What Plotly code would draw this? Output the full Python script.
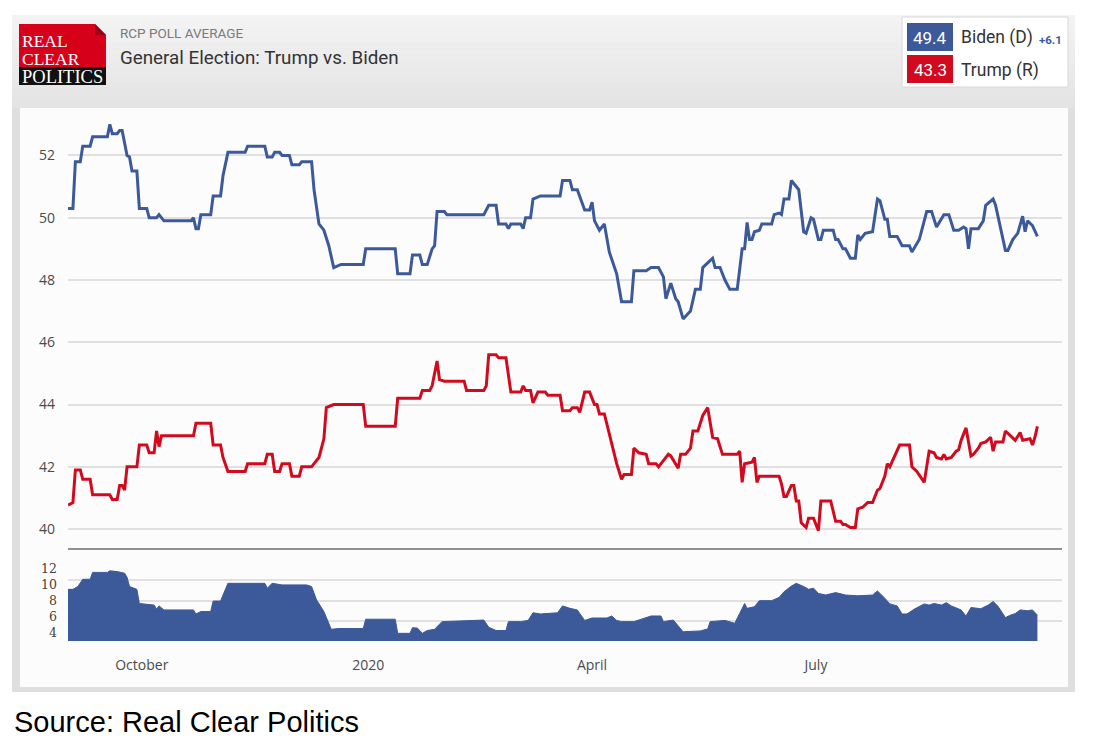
import plotly.graph_objects as go
import pandas as pd

# ---------------- data ----------------
START = "2019-09-01"  # day 0

biden_day = [0, 2, 3, 5, 6, 9, 10, 16, 17, 18, 20, 21, 22, 24, 25, 26, 28, 29, 32, 33, 36, 37, 39,
             50, 51, 52, 53, 54, 58, 59, 62, 63, 65, 72, 73, 80, 81, 83, 84, 86, 87, 90, 91, 94, 95,
             99, 100, 102, 104, 106, 108, 111, 120, 121, 133, 134, 139, 140, 143, 144, 146, 148, 149,
             150, 153, 154, 169, 171, 174, 175, 178, 179, 180, 184, 185, 186, 188, 189, 192, 200, 201,
             204, 205, 207, 210, 212, 213, 214, 216, 218, 220, 223, 225, 229, 230, 235, 237, 240, 242,
             243, 245, 247, 248, 250, 253, 255, 257, 258, 260, 262, 263, 265, 267, 269, 272, 274, 275,
             276, 277, 278, 279, 281, 282, 286, 287, 289, 290, 291, 293, 294, 295, 297, 299, 300, 302,
             303, 305, 306, 307, 311, 312, 313, 315, 316, 318, 320, 321, 322, 324, 327, 329, 330, 332,
             333, 334, 337, 339, 342, 343, 346, 349, 351, 353, 356, 358, 360, 362, 364, 365, 366, 367,
             370, 372, 373, 376, 377, 381, 382, 384, 386, 388, 389, 390, 392, 394]
biden_val = [50.3, 50.3, 51.8, 51.8, 52.3, 52.3, 52.6, 52.6, 53.0, 52.7, 52.7, 52.8, 52.8, 52.0, 51.95,
             51.5, 51.5, 50.3, 50.3, 50.0, 50.0, 50.1, 49.9, 49.9, 50.0, 49.65, 49.65, 50.1, 50.1, 50.7,
             50.7, 51.35, 52.1, 52.1, 52.3, 52.3, 51.95, 51.95, 52.1, 52.1, 52.0, 52.0, 51.7, 51.7, 51.8,
             51.8, 50.9, 49.8, 49.6, 49.1, 48.4, 48.5, 48.5, 49.0, 49.0, 48.2, 48.2, 48.8, 48.8, 48.5,
             48.5, 49.0, 49.1, 50.2, 50.2, 50.1, 50.1, 50.4, 50.4, 49.8, 49.8, 49.65, 49.8, 49.8, 49.65,
             50.0, 50.0, 50.6, 50.7, 50.7, 51.2, 51.2, 50.9, 50.9, 50.25, 50.25, 50.5, 49.9, 49.6, 49.8,
             48.9, 48.2, 47.3, 47.3, 48.3, 48.3, 48.4, 48.4, 48.1, 47.4, 47.9, 47.4, 47.3, 46.75, 47.0,
             47.7, 47.7, 48.4, 48.55, 48.7, 48.4, 48.4, 48.0, 47.7, 47.7, 49.0, 49.0, 49.85, 49.3, 49.3,
             49.55, 49.6, 49.8, 49.8, 50.1, 50.15, 50.1, 50.6, 50.6, 51.2, 51.1, 50.9, 49.55, 49.5, 50.0,
             49.95, 49.3, 49.3, 49.6, 49.6, 49.3, 49.3, 49.0, 49.0, 48.7, 48.7, 49.45, 49.3, 49.5, 49.55,
             50.6, 50.55, 49.95, 49.95, 49.4, 49.4, 49.1, 49.1, 48.9, 49.3, 50.2, 50.2, 49.7, 50.1, 50.1,
             49.6, 49.6, 49.7, 49.65, 49.0, 49.65, 49.65, 49.9, 50.4, 50.6, 50.4, 48.95, 48.95, 49.3,
             49.5, 50.05, 49.55, 49.9, 49.75, 49.4]

trump_day = [0, 2, 3, 5, 6, 9, 10, 17, 18, 20, 21, 22, 23, 24, 28, 29, 32, 33, 35, 36, 37, 38, 51, 52,
             58, 59, 62, 63, 65, 72, 73, 80, 81, 83, 84, 86, 87, 90, 91, 94, 95, 99, 100, 102, 104, 105,
             108, 120, 121, 133, 134, 143, 144, 147, 148, 150, 151, 153, 161, 162, 169, 170, 171, 174,
             175, 178, 180, 184, 185, 186, 188, 189, 191, 194, 195, 200, 201, 204, 205, 207, 208, 210,
             212, 214, 215, 216, 218, 223, 225, 226, 229, 230, 232, 235, 236, 239, 240, 241, 244, 245,
             248, 249, 251, 253, 254, 256, 258, 260, 262, 264, 266, 272, 273, 274, 275, 278, 279, 280,
             281, 289, 290, 291, 292, 294, 295, 296, 297, 298, 300, 301, 303, 305, 306, 310, 312, 314,
             315, 316, 318, 320, 321, 323, 325, 327, 329, 330, 332, 333, 334, 338, 342, 343, 345, 348,
             350, 352, 353, 355, 356, 357, 359, 361, 362, 363, 365, 367, 368, 370, 371, 373, 375, 376,
             377, 380, 381, 383, 385, 387, 388, 391, 392, 393, 394]
trump_val = [40.77, 40.85, 41.9, 41.9, 41.6, 41.6, 41.1, 41.1, 40.95, 40.95, 41.4, 41.4, 41.25, 42.0,
             42.0, 42.7, 42.7, 42.45, 42.45, 43.15, 42.65, 43.0, 43.0, 43.4, 43.4, 42.7, 42.7, 42.3,
             41.85, 41.85, 42.1, 42.1, 42.4, 42.4, 41.85, 41.85, 42.1, 42.1, 41.7, 41.7, 42.0, 42.0,
             42.1, 42.3, 42.9, 43.9, 44.0, 44.0, 43.3, 43.3, 44.2, 44.2, 44.45, 44.45, 44.6, 45.4, 44.8,
             44.75, 44.75, 44.45, 44.45, 44.6, 45.6, 45.6, 45.5, 45.5, 44.4, 44.4, 44.6, 44.45, 44.45,
             44.05, 44.4, 44.4, 44.3, 44.3, 43.8, 43.8, 43.9, 43.9, 43.75, 44.4, 44.4, 44.0, 44.0, 43.7,
             43.7, 42.1, 41.6, 41.75, 41.75, 42.6, 42.45, 42.4, 42.1, 42.1, 42.0, 42.1, 42.4, 42.35,
             41.95, 42.4, 42.4, 42.6, 43.15, 43.15, 43.65, 43.9, 42.95, 42.9, 42.4, 42.4, 42.5, 41.5,
             42.1, 42.15, 42.3, 41.5, 41.7, 41.7, 41.45, 41.05, 41.05, 41.4, 41.4, 40.9, 40.9, 40.2,
             40.05, 40.35, 40.35, 39.95, 40.9, 40.9, 40.25, 40.25, 40.15, 40.15, 40.05, 40.05, 40.65,
             40.7, 40.85, 40.85, 41.25, 41.3, 41.7, 42.1, 42.0, 42.7, 42.7, 42.0, 41.85, 41.5, 42.5,
             42.45, 42.3, 42.25, 42.4, 42.25, 42.3, 42.5, 42.55, 42.85, 43.25, 42.35, 42.4, 42.6, 42.75,
             42.8, 42.95, 42.5, 42.8, 42.8, 43.15, 43.0, 42.85, 43.1, 42.85, 42.9, 42.7, 42.95, 43.3]

spread_day = [0, 2, 4, 6, 9, 10, 16, 17, 20, 23, 24, 25, 28, 29, 35, 36, 37, 39, 51, 52, 54, 58, 59,
              62, 65, 80, 81, 83, 87, 97, 99, 101, 104, 107, 110, 120, 121, 133, 134, 139, 140, 142,
              144, 146, 149, 152, 161, 169, 171, 174, 178, 179, 184, 187, 189, 192, 199, 201, 204, 207,
              210, 213, 219, 221, 223, 225, 230, 234, 237, 241, 242, 246, 248, 250, 257, 260, 261, 267,
              271, 275, 276, 279, 281, 286, 289, 291, 294, 296, 299, 301, 303, 305, 308, 312, 316, 321,
              327, 329, 332, 334, 337, 339, 341, 344, 348, 350, 352, 355, 357, 359, 363, 365, 367, 371,
              374, 376, 378, 381, 383, 385, 387, 390, 392, 393, 394]
spread_val = [9.4, 9.4, 9.75, 10.65, 10.65, 11.5, 11.5, 11.7, 11.6, 11.4, 10.9, 9.75, 9.4, 7.65, 7.45,
              6.95, 7.35, 6.85, 6.85, 6.35, 6.65, 6.65, 7.95, 7.95, 10.15, 10.15, 9.55, 10.15, 9.95,
              9.95, 9.75, 8.1, 6.65, 4.45, 4.55, 4.55, 5.7, 5.7, 3.95, 3.95, 4.65, 4.6, 3.95, 4.3, 4.45,
              5.4, 5.5, 5.6, 4.7, 4.3, 4.3, 5.4, 5.4, 5.55, 6.5, 6.35, 6.5, 7.35, 7.05, 6.85, 5.55,
              5.85, 5.85, 6.1, 5.55, 5.4, 5.4, 5.8, 6.1, 6.1, 5.4, 5.6, 4.8, 4.15, 4.25, 4.5, 5.4, 5.55,
              5.2, 7.65, 7.05, 7.25, 8.0, 8.0, 8.4, 9.1, 9.8, 10.15, 9.75, 9.4, 9.55, 8.9, 8.7, 9.0, 8.7,
              8.6, 8.7, 9.2, 8.3, 7.6, 7.35, 6.35, 6.35, 6.95, 7.6, 7.45, 7.65, 7.45, 7.75, 7.35, 6.85,
              6.1, 7.15, 7.0, 7.45, 7.9, 7.3, 5.9, 6.2, 6.4, 6.85, 6.75, 6.85, 6.5, 6.2]

tick_dates = ["2019-10-01", "2020-01-01", "2020-04-01", "2020-07-01"]
tick_labels = ["October", "2020", "April", "July"]
main_ticks = [40, 42, 44, 46, 48, 50, 52]
spread_ticks = [4, 6, 8, 10, 12]
spread_grid = [3, 5.5, 8, 10.5]
x_range = ["2019-09-01", "2020-10-09"]
main_range = [39.36, 53.30]
spread_range = [3.0, 14.4]

names = ["Biden (D)", "Trump (R)"]
title_small = "RCP POLL AVERAGE"
title_big = "General Election: Trump vs. Biden"
source_text = "Source: Real Clear Politics"

# ---------------- helpers ----------------
# the page body keeps an 8px margin, so the figure is 8px smaller and coordinates shift by 8
OFF = 8
W, H = 1110 - OFF, 753 - OFF
def px(x):
    return (x - OFF) / W
def py(y):
    return 1 - (y - OFF) / H
def to_dates(days):
    return pd.to_datetime(START) + pd.to_timedelta(days, unit="D")

BLUE = "#3c5a9a"
RED = "#d20a1e"

fig = go.Figure()
fig.add_trace(go.Scatter(x=to_dates(biden_day), y=biden_val, mode="lines", name=names[0],
                         line=dict(color=BLUE, width=3), xaxis="x", yaxis="y"))
fig.add_trace(go.Scatter(x=to_dates(trump_day), y=trump_val, mode="lines", name=names[1],
                         line=dict(color=RED, width=3), xaxis="x", yaxis="y"))
fig.add_trace(go.Scatter(x=to_dates(spread_day), y=spread_val, mode="lines", name="Spread",
                         fill="tozeroy", fillcolor=BLUE, line=dict(color=BLUE, width=1),
                         xaxis="x2", yaxis="y2"))
fig.add_trace(go.Scatter(x=[], y=[], xaxis="x2", yaxis="y3", showlegend=False))

shapes = []
def rect(x0, y0, x1, y1, color, layer="below"):
    shapes.append(dict(type="rect", xref="paper", yref="paper", x0=px(x0), x1=px(x1),
                       y0=py(y1), y1=py(y0), fillcolor=color, line=dict(width=0), layer=layer))

# outer frame
rect(12, 15, 1075, 692, "#dfdfdf")
# header gradient
n = 14
top, bot = (243, 243, 243), (228, 228, 228)
for i in range(n):
    t = i / (n - 1)
    c = tuple(int(round(top[k] + (bot[k] - top[k]) * t)) for k in range(3))
    y0 = 15 + (108 - 15) * i / n
    y1 = 15 + (108 - 15) * (i + 1) / n + 0.5
    rect(12, y0, 1075, y1, "rgb(%d,%d,%d)" % c)
# white panel
rect(20, 108, 1068, 687, "#fcfcfd")

# logo
def path(pts):
    return "M " + " L ".join("%f,%f" % (px(a), py(b)) for a, b in pts) + " Z"
shapes.append(dict(type="path", xref="paper", yref="paper",
                   path=path([(19, 24), (95, 24), (106, 35), (106, 67), (19, 67)]),
                   fillcolor="#d7001b", line=dict(width=0), layer="above"))
shapes.append(dict(type="path", xref="paper", yref="paper",
                   path=path([(95, 24), (95, 35), (106, 35)]),
                   fillcolor="#9e0014", line=dict(width=0), layer="above"))
rect(19, 67, 106, 85, "#111111", layer="above")

# legend box
rect(902, 17, 1068, 87, "#ffffff", layer="above")
shapes.append(dict(type="rect", xref="paper", yref="paper", x0=px(902), x1=px(1068),
                   y0=py(87), y1=py(17), line=dict(color="#d8d8d8", width=1),
                   fillcolor="rgba(0,0,0,0)", layer="above"))
rect(907, 23, 953, 51, BLUE, layer="above")
rect(907, 55, 953, 83, RED, layer="above")

# main/spread separator
shapes.append(dict(type="line", xref="paper", yref="paper", x0=px(68), x1=px(1062),
                   y0=py(549), y1=py(549), line=dict(color="#6e6e6e", width=1.5), layer="above"))

annotations = []
def text(x, y, s, size, color, family="Roboto", xanchor="left", yanchor="middle", **kw):
    d = dict(x=px(x), y=py(y), xref="paper", yref="paper", text=s, showarrow=False,
             xanchor=xanchor, yanchor=yanchor,
             font=dict(size=size, color=color, family=family))
    d.update(kw)
    annotations.append(d)

serif = "Liberation Serif"
text(21, 41, "REAL", 17.5, "#ffffff", serif, height=15, borderpad=0)
text(21, 58, "CLEAR", 17.5, "#ffffff", serif, height=15, borderpad=0)
text(62.5, 76.5, "POLITICS", 18.5, "#ffffff", serif, xanchor="center", height=16, borderpad=0)

text(118, 33, title_small, 13.5, "#7a7a7a")
text(118, 58, title_big, 18.8, "#333333")

b_last, t_last = biden_val[-1], trump_val[-1]
text(930, 38, "%.1f" % b_last, 17, "#ffffff", xanchor="center")
text(930, 70, "%.1f" % t_last, 17, "#ffffff", xanchor="center")
text(959, 38, names[0], 17.5, "#333333")
text(1037, 40, "<b>+%.1f</b>" % (b_last - t_last), 11.5, BLUE)
text(959, 70, names[1], 17.5, "#333333")

text(12, 722, source_text, 29, "#000000", "Liberation Sans")

tickfont = dict(family="Open Sans", size=14, color="#4a4a4a")
xdom = [px(68), px(1062)]

fig.update_layout(
    width=W, height=H, autosize=False,
    margin=dict(l=0, r=0, t=0, b=0),
    paper_bgcolor="#ffffff", plot_bgcolor="#fafbfd",
    showlegend=False,
    shapes=shapes, annotations=annotations,
    xaxis=dict(domain=xdom, anchor="y", range=x_range, type="date", showgrid=False,
               showticklabels=False, zeroline=False, showline=False, ticks="",
               matches="x2"),
    yaxis=dict(domain=[py(549), py(115)], anchor="x", range=main_range, tickvals=main_ticks,
               showgrid=True, gridcolor="#e0e0e0", gridwidth=1.5, zeroline=False,
               tickfont=tickfont, ticks="", ticklabelstandoff=12),
    xaxis2=dict(domain=xdom, anchor="y2", range=x_range, type="date", showgrid=False,
                tickvals=tick_dates, ticktext=tick_labels, ticks="", zeroline=False,
                tickfont=tickfont, ticklabelstandoff=14),
    yaxis2=dict(domain=[py(641), py(549)], anchor="x2", range=spread_range, tickvals=spread_grid,
                showticklabels=False, showgrid=True, gridcolor="#e0e0e0", gridwidth=1.5,
                zeroline=False, ticks=""),
    yaxis3=dict(overlaying="y2", anchor="x2", side="left", range=spread_range,
                tickvals=spread_ticks, showgrid=False, zeroline=False, ticks="",
                tickfont=dict(family="DejaVu Serif", size=12.5, color="#4a4238"),
                ticklabelstandoff=10),
)

fig.write_html("out.html")
